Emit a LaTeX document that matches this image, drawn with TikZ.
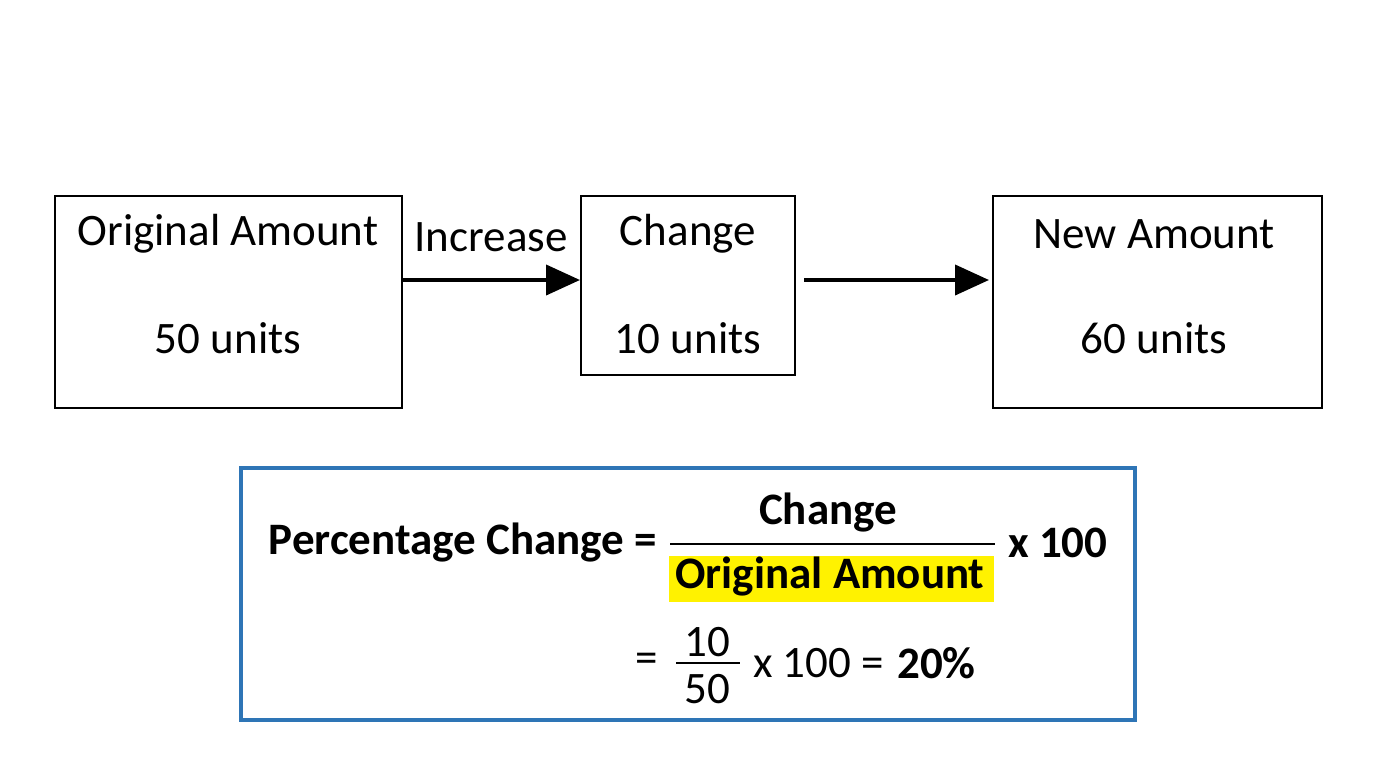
\documentclass[tikz,border=0pt]{standalone}
\usepackage{fontspec}
\setmainfont{Carlito}
\usetikzlibrary{arrows.meta}
\begin{document}
\begin{tikzpicture}[x=1pt,y=-1pt,
  box/.style={draw=black,line width=2.5pt},
  arr/.style={line width=4pt,-{Triangle[length=34pt,width=30pt]}},
  t/.style={inner sep=0pt,font=\fontsize{45}{54}\selectfont},
  b/.style={inner sep=0pt,font=\fontsize{45}{54}\selectfont\bfseries}]
\useasboundingbox[fill=white] (0,0) rectangle (1376,768);
\node[box,minimum width=347pt,minimum height=212pt] (b1) at (228.5,302) {};
\node[box,minimum width=214pt,minimum height=179pt] (b2) at (688,285.5) {};
\node[box,minimum width=329pt,minimum height=212pt] (b3) at (1157.5,302) {};
\node[t] (t1) at (228,234) {Original Amount};
\node[t] (u1) at (228,338) {50 units};
\node[t] (t2) at (688,234) {Change};
\node[t] (u2) at (688,338) {10 units};
\node[t] (t3) at (1154,234) {New Amount};
\node[t] (u3) at (1154,338) {60 units};
\coordinate (a1s) at (402,280); \coordinate (a1e) at (580,280);
\coordinate (a2s) at (804,280); \coordinate (a2e) at (989,280);
\draw[arr] (a1s) -- (a1e);
\draw[arr] (a2s) -- (a2e);
\node[t] (inc) at (491,237) {Increase};
\node[draw={rgb,255:red,46;green,117;blue,182},line width=4pt,minimum width=894pt,minimum height=252pt] (fb) at (688,594) {};
\fill[yellow] (669,556) rectangle (994,602);
\node[b,anchor=east] (pc) at (657,543) {Percentage Change =};
\node[b] (ch) at (828,513) {Change};
\node[b] (oa) at (830,577) {Original Amount};
\draw[line width=2pt] (670,544) -- (995,544);
\node[b,anchor=west] (x1) at (1008,543) {x 100};
\node[t] (eq) at (647,663) {=};
\node[t] (n10) at (707,642) {10};
\node[t] (n50) at (707,689) {50};
\draw[line width=2pt] (676,663) -- (740,663);
\node[t,anchor=west] (x2) at (753,663) {x 100 =};
\node[b,anchor=west] (r) at (897,663) {20\%};
\end{tikzpicture}
\end{document}
